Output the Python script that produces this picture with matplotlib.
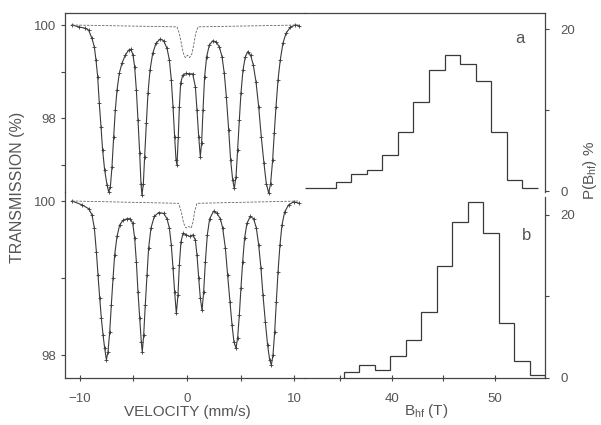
import matplotlib
matplotlib.use("Agg")
import matplotlib.pyplot as plt
import numpy as np

plt.rcParams['font.family'] = ['Liberation Sans', 'DejaVu Sans']
plt.rcParams['mathtext.default'] = 'regular'

# ---------------- data ----------------
# spectrum (a): velocity (mm/s) and transmission (%)
vel_a = [-10.70, -10.08, -9.46, -9.15, -8.84, -8.62, -8.47, -8.31, -8.16, -8.00,
         -7.85, -7.66, -7.44, -7.29, -7.13, -6.98, -6.82, -6.67, -6.51, -6.30,
         -6.05, -5.74, -5.43, -5.21, -5.02, -4.87, -4.71, -4.56, -4.40, -4.28,
         -4.19, -4.06, -3.94, -3.78, -3.63, -3.44, -3.19, -2.88, -2.48, -2.17,
         -1.86, -1.64, -1.46, -1.30, -1.15, -1.02, -0.93, -0.81, -0.71, -0.59,
         -0.40, -0.09, 0.22, 0.53, 0.78, 0.93, 1.09, 1.24, 1.36, 1.49,
         1.64, 1.83, 2.08, 2.39, 2.70, 3.01, 3.26, 3.47, 3.66, 3.88,
         4.06, 4.25, 4.40, 4.56, 4.71, 4.87, 5.02, 5.21, 5.43, 5.67,
         5.92, 6.17, 6.42, 6.67, 6.91, 7.16, 7.38, 7.60, 7.78, 7.97,
         8.12, 8.28, 8.47, 8.68, 8.93, 9.21, 9.61, 10.08, 10.45]
trans_a = [100.00, 99.96, 99.93, 99.89, 99.71, 99.53, 99.25, 98.89, 98.32, 97.81,
           97.31, 96.88, 96.56, 96.42, 96.52, 96.95, 97.60, 98.17, 98.60, 98.96,
           99.18, 99.35, 99.46, 99.48, 99.35, 99.10, 98.60, 97.96, 97.24, 96.59,
           96.34, 96.59, 97.17, 97.89, 98.53, 99.03, 99.39, 99.61, 99.70, 99.66,
           99.50, 99.25, 98.82, 98.24, 97.60, 97.10, 96.99, 97.60, 98.24, 98.75,
           98.92, 98.96, 98.95, 98.95, 98.67, 98.17, 97.60, 97.17, 97.46, 98.17,
           98.89, 99.32, 99.57, 99.66, 99.64, 99.53, 99.32, 98.96, 98.46, 97.74,
           97.10, 96.67, 96.49, 96.74, 97.31, 97.96, 98.53, 99.03, 99.32, 99.43,
           99.35, 99.14, 98.78, 98.24, 97.60, 97.03, 96.59, 96.39, 96.59, 97.10,
           97.67, 98.24, 98.82, 99.25, 99.61, 99.82, 99.95, 100.00, 99.98]
# central sub-spectrum (a)
sub_vel_a = [-10.70, -0.93, -0.71, -0.53, -0.34, -0.16, 0.06, 0.25, 0.47, 0.65, 0.81, 1.02, 10.45]
sub_trans_a = [100.00, 99.96, 99.82, 99.61, 99.39, 99.30, 99.35, 99.30, 99.39, 99.61, 99.82, 99.96, 100.00]

# spectrum (b)
vel_b = [-10.70, -9.77, -9.15, -8.84, -8.62, -8.43, -8.28, -8.12, -7.97, -7.81,
         -7.66, -7.50, -7.35, -7.19, -7.04, -6.88, -6.73, -6.51, -6.26, -5.95,
         -5.58, -5.27, -5.05, -4.87, -4.71, -4.56, -4.40, -4.25, -4.16, -4.03,
         -3.88, -3.72, -3.57, -3.35, -3.04, -2.64, -2.17, -1.86, -1.64, -1.46,
         -1.30, -1.15, -0.99, -0.84, -0.71, -0.56, -0.37, -0.06, 0.25, 0.56,
         0.78, 0.93, 1.09, 1.24, 1.40, 1.55, 1.71, 1.89, 2.11, 2.48,
         2.79, 3.10, 3.32, 3.57, 3.78, 4.00, 4.19, 4.37, 4.56, 4.71,
         4.87, 5.02, 5.18, 5.36, 5.58, 5.89, 6.20, 6.45, 6.67, 6.88,
         7.07, 7.29, 7.50, 7.69, 7.85, 8.00, 8.16, 8.31, 8.47, 8.65,
         8.84, 9.09, 9.46, 9.92, 10.45]
trans_b = [100.00, 99.95, 99.90, 99.82, 99.65, 99.34, 99.04, 98.74, 98.48, 98.26,
           98.09, 97.94, 98.04, 98.30, 98.65, 99.00, 99.30, 99.54, 99.69, 99.75,
           99.77, 99.77, 99.71, 99.52, 99.21, 98.82, 98.48, 98.17, 98.04, 98.26,
           98.65, 99.04, 99.39, 99.65, 99.80, 99.85, 99.84, 99.77, 99.65, 99.43,
           99.13, 98.82, 98.54, 98.78, 99.17, 99.47, 99.58, 99.56, 99.54, 99.56,
           99.49, 99.30, 99.00, 98.74, 98.58, 98.82, 99.21, 99.56, 99.77, 99.87,
           99.84, 99.77, 99.65, 99.39, 99.04, 98.69, 98.39, 98.17, 98.09, 98.22,
           98.52, 98.87, 99.21, 99.52, 99.71, 99.80, 99.77, 99.65, 99.43, 99.13,
           98.78, 98.43, 98.13, 97.94, 97.87, 98.00, 98.30, 98.69, 99.08, 99.43,
           99.69, 99.86, 99.95, 99.99, 99.97]
sub_vel_b = [-10.70, -0.78, -0.53, -0.31, -0.09, 0.15, 0.40, 0.56, 0.71, 0.93, 10.45]
sub_trans_b = [100.00, 99.97, 99.86, 99.71, 99.65, 99.67, 99.65, 99.73, 99.86, 99.97, 100.00]

# hyperfine field distributions P(Bhf) %
bhf_edges_a = [31.6, 33.1, 34.6, 36.1, 37.6, 39.1, 40.6, 42.1, 43.6, 45.1, 46.6, 48.1, 49.6, 51.1, 52.6, 54.1]
p_a = [0.4, 0.4, 1.15, 2.06, 2.59, 4.44, 7.25, 11.02, 14.94, 16.79, 15.68, 13.58, 7.25, 1.36, 0.41]
bhf_edges_b = [35.35, 36.85, 38.35, 39.85, 41.35, 42.85, 44.35, 45.85, 47.35, 48.85, 50.35, 51.85, 53.35, 54.85]
p_b = [0.74, 1.55, 1.02, 2.74, 4.70, 8.05, 13.78, 19.14, 21.60, 17.79, 6.75, 2.04, 0.32]

vel_ticks = [-10, -5, 0, 5, 10]
vel_ticklabels = ['\u221210', '', '0', '', '10']
bhf_ticks = [35, 40, 45, 50]
bhf_ticklabels = ['', '40', '', '50']

# ---------------- layout ----------------
W, H = 601, 425
fig = plt.figure(figsize=(W / 100, H / 100), dpi=100)
fig.patch.set_facecolor('white')

def rect(x0, y0, x1, y1):
    return [x0 / W, 1 - y1 / H, (x1 - x0) / W, (y1 - y0) / H]

lc = '#3a3a3a'
tc = '#555555'
fs = 9.5

specA = fig.add_axes(rect(65, 13, 305, 192))
specB = fig.add_axes(rect(65, 192, 305, 378))
histA = fig.add_axes(rect(305, 13, 545, 192))
histB = fig.add_axes(rect(305, 197, 545, 378))

for ax in (specA, specB, histA, histB):
    ax.set_facecolor('none')
    for s in ax.spines.values():
        s.set_color('#444444')
        s.set_linewidth(0.9)
    ax.tick_params(colors='#444444', labelcolor=tc, labelsize=fs, width=0.8, length=3)

# spectrum a
specA.plot(vel_a, trans_a, color=lc, lw=0.8, marker='+', ms=3, mew=0.6, clip_on=False)
specA.plot(sub_vel_a, sub_trans_a, color='#666666', lw=0.6, ls=(0, (3, 1.5)), clip_on=False)
specA.set_xlim(-11.35, 10.98)
specA.set_ylim(96.41, 100.258)
specA.spines['right'].set_visible(False)
specA.spines['bottom'].set_visible(False)
specA.set_xticks([])
specA.set_yticks([97, 98, 99, 100])
specA.set_yticklabels(['', '98', '', '100'])

# spectrum b
specB.plot(vel_b, trans_b, color=lc, lw=0.8, marker='+', ms=3, mew=0.6, clip_on=False)
specB.plot(sub_vel_b, sub_trans_b, color='#666666', lw=0.6, ls=(0, (3, 1.5)), clip_on=False)
specB.set_xlim(-11.35, 10.98)
specB.set_ylim(97.702, 100.117)
specB.spines['right'].set_visible(False)
specB.spines['top'].set_visible(False)
specB.set_yticks([98, 99, 100])
specB.set_yticklabels(['98', '', '100'])
specB.set_xticks(vel_ticks)
specB.set_xticklabels(vel_ticklabels)
specB.tick_params(axis='x', direction='inout', length=4, pad=9)

# histogram a
histA.stairs(p_a, bhf_edges_a, baseline=None, color=lc, lw=0.9)
histA.set_xlim(31.62, 54.81)
histA.set_ylim(-0.12, 21.98)
histA.spines['left'].set_visible(False)
histA.spines['bottom'].set_visible(False)
histA.set_xticks([])
histA.yaxis.tick_right()
histA.set_yticks([0, 10, 20])
histA.set_yticklabels(['0', '', '20'])
histA.tick_params(axis='y', pad=8)
histA.text(0.895, 0.855, 'a', transform=histA.transAxes, fontsize=12, color=tc,
           ha='center', va='center')

# histogram b
histB.stairs(p_b, bhf_edges_b, baseline=0, color=lc, lw=0.9)
histB.set_xlim(31.62, 54.81)
histB.set_ylim(0.0, 22.2)
histB.spines['left'].set_visible(False)
histB.spines['top'].set_visible(False)
histB.yaxis.tick_right()
histB.set_yticks([0, 10, 20])
histB.set_yticklabels(['0', '', '20'])
histB.tick_params(axis='y', pad=8)
histB.set_xticks(bhf_ticks)
histB.set_xticklabels(bhf_ticklabels)
histB.tick_params(axis='x', direction='inout', length=4, pad=9)
histB.text(0.925, 0.79, 'b', transform=histB.transAxes, fontsize=12, color=tc,
           ha='center', va='center')

fig.text(187 / W, 1 - 412 / H, 'VELOCITY (mm/s)', fontsize=11,
         color=tc, ha='center', va='center')
fig.text(426 / W, 1 - 411 / H, r'B$_{hf}$ (T)', fontsize=11,
         color=tc, ha='center', va='center')
fig.text(18 / W, 1 - 187 / H, 'TRANSMISSION (%)', rotation=90, fontsize=11.5,
         color=tc, ha='center', va='center')
fig.text(590 / W, 1 - 170 / H, r'P(B$_{hf}$) %', rotation=90, fontsize=11,
         color=tc, ha='center', va='center')

fig.savefig('out.png', dpi=100, facecolor='white')
